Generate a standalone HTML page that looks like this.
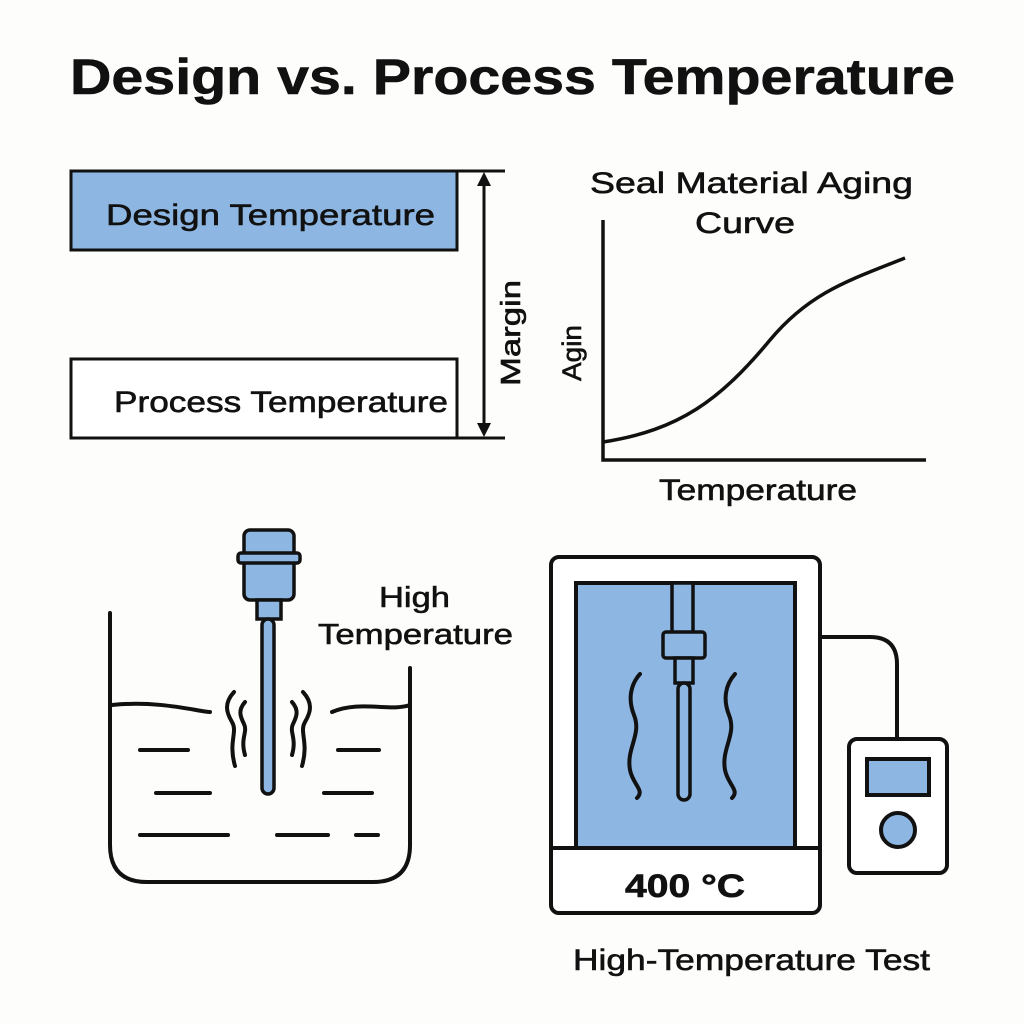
<!DOCTYPE html>
<html><head><style>
html,body{margin:0;padding:0;background:#fdfdfb;}
svg{display:block}
text{font-family:"Liberation Sans",sans-serif;fill:#111;stroke:#111;stroke-width:0.6;}
</style></head><body>
<svg width="1024" height="1024" viewBox="0 0 1024 1024" xmlns="http://www.w3.org/2000/svg">
<rect width="1024" height="1024" fill="#fdfdfb"/>
<text x="70" y="94" font-size="50" font-weight="bold" textLength="885" lengthAdjust="spacingAndGlyphs">Design vs. Process Temperature</text>

<g stroke="#111" stroke-width="3" fill="none">
<rect x="71" y="171" width="386" height="79" fill="#8db7e2"/>
<rect x="71" y="359" width="386" height="79" fill="#fff"/>
<line x1="457" y1="171" x2="505" y2="171"/>
<line x1="457" y1="438" x2="505" y2="438"/>
<line x1="484" y1="180" x2="484" y2="429"/>
</g>
<polygon points="484,172 477,186 491,186" fill="#111"/>
<polygon points="484,437 477,423 491,423" fill="#111"/>
<text x="106" y="225" font-size="30" textLength="329" lengthAdjust="spacingAndGlyphs">Design Temperature</text>
<text x="114" y="412" font-size="30" textLength="334" lengthAdjust="spacingAndGlyphs">Process Temperature</text>
<text transform="translate(520,333) rotate(-90)" font-size="28" text-anchor="middle" textLength="106" lengthAdjust="spacingAndGlyphs">Margin</text>

<text x="590" y="193" font-size="30" textLength="323" lengthAdjust="spacingAndGlyphs">Seal Material Aging</text>
<text x="695" y="233" font-size="30" textLength="100" lengthAdjust="spacingAndGlyphs">Curve</text>
<text transform="translate(581,353) rotate(-90)" font-size="27" text-anchor="middle" textLength="56" lengthAdjust="spacingAndGlyphs">Agin</text>
<text x="659" y="500" font-size="30" textLength="198" lengthAdjust="spacingAndGlyphs">Temperature</text>
<g stroke="#111" stroke-width="3.5" fill="none">
<polyline points="603,220 603,460 926,460"/>
<path d="M603,442 C680,430 720,400 770,340 C810,292 850,280 905,258"/>
</g>

<text x="379" y="607" font-size="29" textLength="71" lengthAdjust="spacingAndGlyphs">High</text>
<text x="318" y="644" font-size="29" textLength="195" lengthAdjust="spacingAndGlyphs">Temperature</text>

<g stroke="#111" stroke-width="4" fill="none" stroke-linecap="round">
<path d="M110,613 V845 Q110,882 147,882 H373 Q410,882 410,845 V668"/>
<path d="M112,705 C160,700 200,712 210,712"/>
<path d="M332,712 C360,700 390,712 410,705"/>
<path d="M234,692 C224,703 226,712 232,722 C238,732 228,742 235,766"/>
<path d="M245,702 C238,710 240,716 244,724 C248,732 240,738 245,755"/>
<path d="M303,692 C313,703 311,712 305,722 C299,732 309,742 302,766"/>
<path d="M292,702 C299,710 297,716 293,724 C289,732 297,738 292,755"/>
<line x1="140" y1="750" x2="188" y2="750"/>
<line x1="156" y1="793" x2="210" y2="793"/>
<line x1="140" y1="835" x2="228" y2="835"/>
<line x1="338" y1="750" x2="379" y2="750"/>
<line x1="324" y1="793" x2="372" y2="793"/>
<line x1="277" y1="835" x2="328" y2="835"/>
<line x1="356" y1="835" x2="378" y2="835"/>
</g>
<g stroke="#111" stroke-width="3.5" fill="#8db7e2">
<rect x="244" y="530" width="50" height="70" rx="6"/>
<rect x="238" y="553" width="62" height="10" rx="3"/>
<rect x="257" y="600" width="24" height="19"/>
<rect x="262" y="619" width="12" height="175" rx="6"/>
</g>

<g stroke="#111" stroke-width="4" fill="none" stroke-linecap="round">
<rect x="551" y="557" width="269" height="356" rx="8" fill="#fff"/>
<rect x="576" y="583" width="219" height="265" fill="#8db7e2"/>
<line x1="551" y1="848" x2="820" y2="848"/>
<path d="M820,637 H870 Q897,637 897,664 V740"/>
<rect x="849" y="739" width="98" height="134" rx="8" fill="#fff"/>
<rect x="867" y="759" width="62" height="36" fill="#8db7e2"/>
<circle cx="898" cy="830" r="17" fill="#8db7e2"/>
<path d="M640,674 C630,685 628,700 634,715 C642,735 626,748 630,770 C633,785 645,790 637,798"/>
<path d="M735,674 C725,685 723,700 729,715 C737,735 721,748 725,770 C728,785 740,790 732,798"/>
</g>
<g stroke="#111" stroke-width="3.5" fill="#8db7e2">
<rect x="672" y="583" width="21" height="50"/>
<rect x="663" y="632" width="42" height="26" rx="3"/>
<rect x="675" y="658" width="18" height="25"/>
<rect x="678" y="683" width="12" height="117" rx="6"/>
</g>
<text x="625" y="897" font-size="32" font-weight="bold" textLength="120" lengthAdjust="spacingAndGlyphs">400 °C</text>
<text x="573" y="970" font-size="30" textLength="357" lengthAdjust="spacingAndGlyphs">High-Temperature Test</text>
</svg>
</body></html>
